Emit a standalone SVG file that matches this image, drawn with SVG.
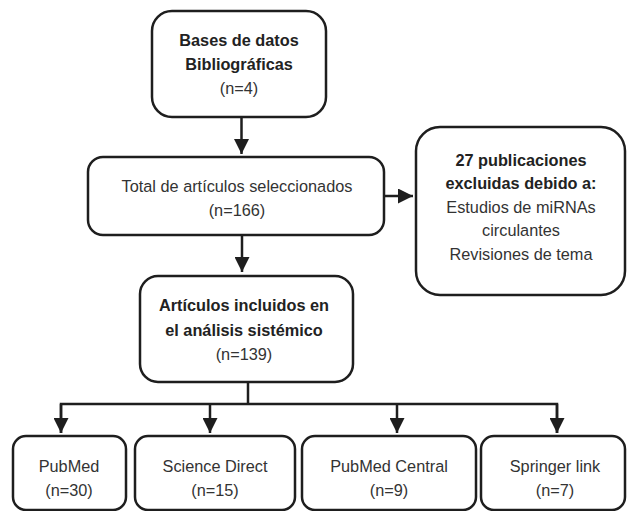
<svg xmlns="http://www.w3.org/2000/svg" width="627" height="511" viewBox="0 0 627 511">
<defs>
<marker id="ah" markerWidth="15" markerHeight="15" viewBox="0 0 15 15" refX="15" refY="7.5" orient="auto" markerUnits="userSpaceOnUse">
<path d="M0,0 L15,7.5 L0,15 Z" fill="#1e1e1e"/>
</marker>
<style>
.box{fill:#fff;stroke:#1e1e1e;stroke-width:2.5}
.t{font-family:"Liberation Sans",Arial,sans-serif;font-size:16.3px;fill:#333;text-anchor:middle}
.b{font-weight:bold;fill:#222}
.c{fill:none;stroke:#1e1e1e;stroke-width:2.5}
</style>
</defs>
<rect width="627" height="511" fill="#fff"/>
<g id="connectors">
<line class="c" x1="241.5" y1="117" x2="241.5" y2="154" marker-end="url(#ah)"/>
<line class="c" x1="384" y1="196" x2="413" y2="196" marker-end="url(#ah)"/>
<line class="c" x1="242" y1="235" x2="242" y2="272" marker-end="url(#ah)"/>
<polyline class="c" points="248,382 248,404"/>
<polyline class="c" points="61,433 61,404 557,404 557,433"/>
<line class="c" x1="61" y1="404" x2="61" y2="433" marker-end="url(#ah)"/>
<line class="c" x1="210" y1="404" x2="210" y2="433" marker-end="url(#ah)"/>
<line class="c" x1="397" y1="404" x2="397" y2="433" marker-end="url(#ah)"/>
<line class="c" x1="557" y1="404" x2="557" y2="433" marker-end="url(#ah)"/>
</g>
<g id="n-bases">
<rect class="box" x="152" y="11" width="174" height="106" rx="20"/>
<text class="t b" x="239" y="46">Bases de datos</text>
<text class="t b" x="239" y="70">Bibliográficas</text>
<text class="t" x="239" y="94">(n=4)</text>
</g>
<g id="n-total">
<rect class="box" x="88" y="157" width="296" height="78" rx="15"/>
<text class="t" x="237" y="192">Total de artículos seleccionados</text>
<text class="t" x="237" y="216">(n=166)</text>
</g>
<g id="n-excluidas">
<rect class="box" x="416" y="127" width="209" height="168" rx="24"/>
<text class="t b" x="521" y="166">27 publicaciones</text>
<text class="t b" x="521" y="189">excluidas debido a:</text>
<text class="t" x="521" y="213">Estudios de miRNAs</text>
<text class="t" x="521" y="236">circulantes</text>
<text class="t" x="521" y="260">Revisiones de tema</text>
</g>
<g id="n-incluidos">
<rect class="box" x="140" y="276" width="213" height="106" rx="18"/>
<text class="t b" x="244" y="311">Artículos incluidos en</text>
<text class="t b" x="244" y="336">el análisis sistémico</text>
<text class="t" x="244" y="360">(n=139)</text>
</g>
<g id="n-pubmed">
<rect class="box" x="13" y="436" width="113" height="74" rx="13"/>
<text class="t" x="69" y="472">PubMed</text>
<text class="t" x="69" y="496">(n=30)</text>
</g>
<g id="n-sciencedirect">
<rect class="box" x="135" y="436" width="160" height="74" rx="13"/>
<text class="t" x="215" y="472">Science Direct</text>
<text class="t" x="215" y="496">(n=15)</text>
</g>
<g id="n-pmc">
<rect class="box" x="302" y="436" width="174" height="74" rx="13"/>
<text class="t" x="389" y="472">PubMed Central</text>
<text class="t" x="389" y="496">(n=9)</text>
</g>
<g id="n-springer">
<rect class="box" x="481" y="436" width="144" height="74" rx="13"/>
<text class="t" x="555" y="472">Springer link</text>
<text class="t" x="555" y="496">(n=7)</text>
</g>
</svg>
